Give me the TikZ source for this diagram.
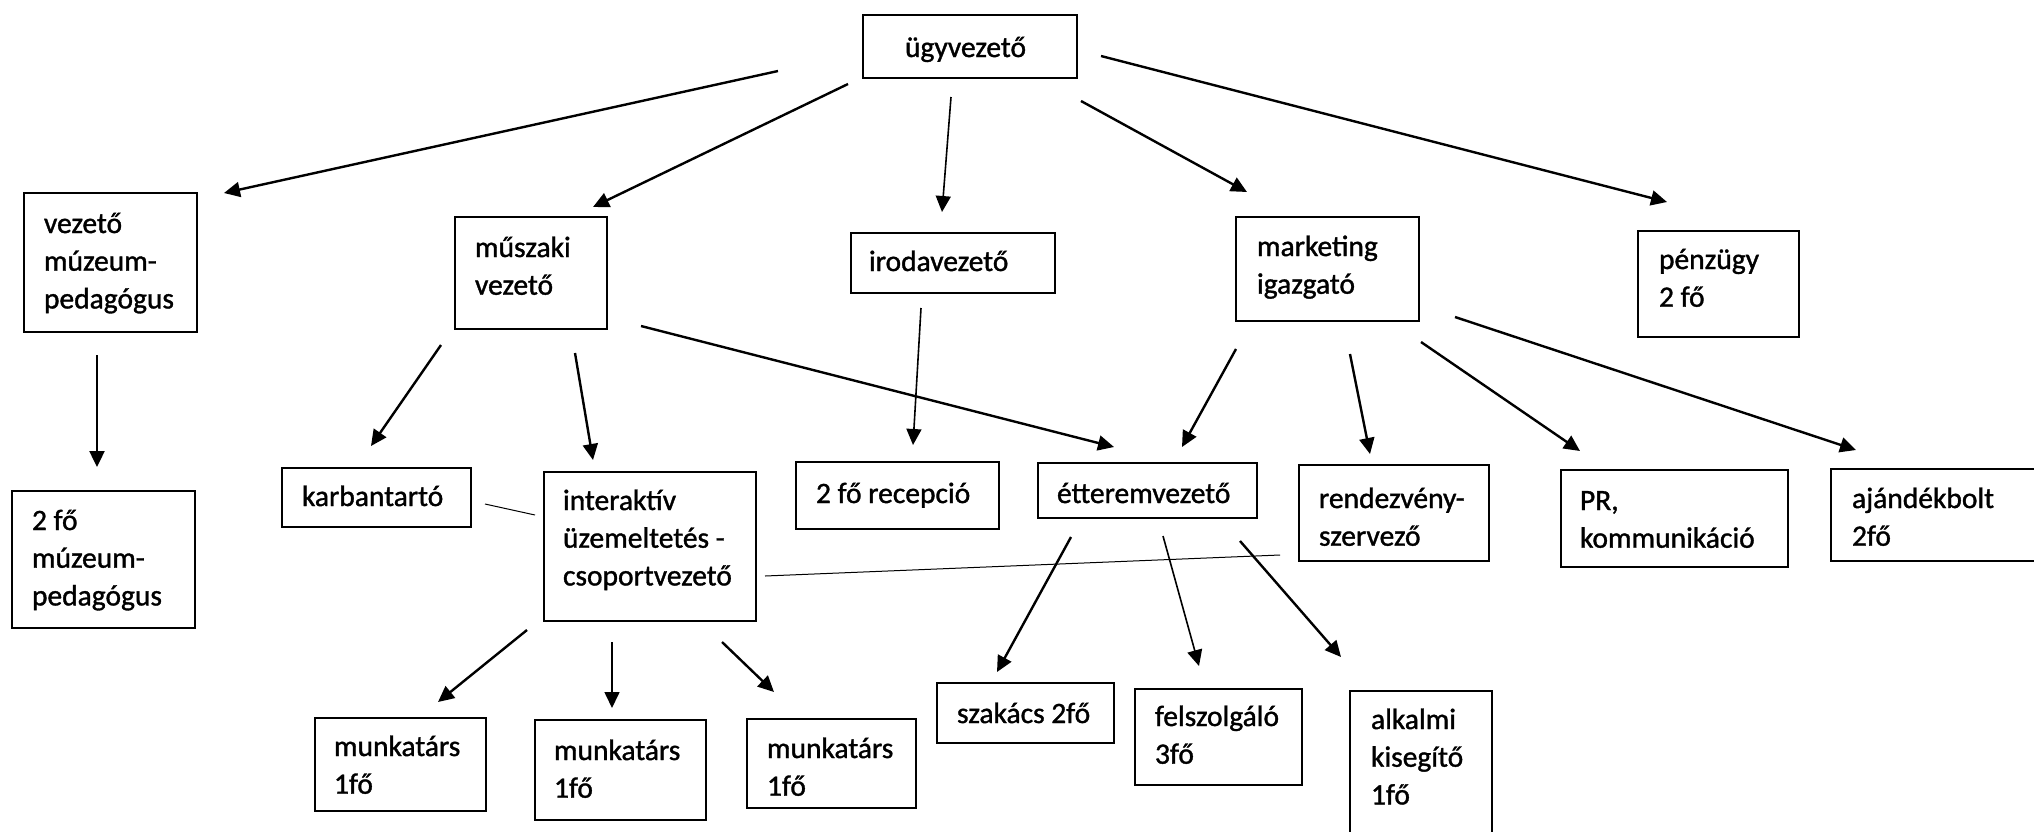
\documentclass[tikz,border=0pt]{standalone}
\usepackage{fontspec}
\setmainfont{Carlito}[FakeBold=1.2]
\usetikzlibrary{arrows.meta}
\tikzset{
  box/.style={draw, line width=1pt, inner sep=0pt, outer sep=0pt, anchor=north west},
  txt/.style={inner sep=0pt, outer sep=0pt, anchor=north west, align=left,
    font=\fontsize{14.75}{18.85}\selectfont},
  arr/.style={line width=1.2pt, -{Triangle[length=8pt,width=7.5pt]}},
  arrthin/.style={line width=0.8pt, -{Triangle[length=8pt,width=7.5pt]}},
  link/.style={line width=0.5pt}
}
\newcommand{\fl}{\rule{0pt}{14pt}}
\begin{document}
\begin{tikzpicture}[x=0.5pt,y=-0.5pt]
\useasboundingbox (0,0) rectangle (2034,831);
\clip (0,0) rectangle (2034,831);
\fill[white] (0,0) rectangle (2034,831);
% boxes
\node[box, minimum width=107pt, minimum height=31.5pt] (bugy) at (863,15) {};
\node[box, minimum width=86.5pt, minimum height=69.5pt] (bvmp) at (24,193) {};
\node[box, minimum width=76pt, minimum height=56pt] (bmusz) at (455,217) {};
\node[box, minimum width=102pt, minimum height=30pt] (biroda) at (851,233) {};
\node[box, minimum width=91.5pt, minimum height=52pt] (bmark) at (1236,217) {};
\node[box, minimum width=80.5pt, minimum height=53pt] (bpenz) at (1638,231) {};
\node[box, minimum width=91.5pt, minimum height=68.5pt] (bkmp) at (12,491) {};
\node[box, minimum width=94.5pt, minimum height=29.5pt] (bkarb) at (282,468) {};
\node[box, minimum width=106pt, minimum height=74.5pt] (binter) at (544,472) {};
\node[box, minimum width=101.5pt, minimum height=33.5pt] (brecep) at (796,462) {};
\node[box, minimum width=85.5pt, minimum height=46.5pt] (bmunk1) at (315,718) {};
\node[box, minimum width=85.5pt, minimum height=50pt] (bmunk2) at (535,720) {};
\node[box, minimum width=84.5pt, minimum height=44.5pt] (bmunk3) at (747,719) {};
\node[box, minimum width=88.5pt, minimum height=30pt] (bszak) at (937,683) {};
\node[box, minimum width=109.5pt, minimum height=27.5pt] (better) at (1038,463) {};
\node[box, minimum width=95pt, minimum height=48pt] (brend) at (1299,465) {};
\node[box, minimum width=113.5pt, minimum height=48.5pt] (bpr) at (1561,470) {};
\node[box, minimum width=110pt, minimum height=46pt] (bajand) at (1831,469) {};
\node[box, minimum width=83.5pt, minimum height=48pt] (bfelsz) at (1135,689) {};
\node[box, minimum width=71pt, minimum height=80pt] (balk) at (1350,691) {};
% texts
\node[txt] (tugy) at (905,29) {\fl ügyvezető};
\node[txt] (tvmp) at (44,205) {\fl vezető\\múzeum-\\pedagógus};
\node[txt] (tmusz) at (475,229) {\fl műszaki\\vezető};
\node[txt] (tiroda) at (869,243) {\fl irodavezető};
\node[txt] (tmark) at (1257,228) {\fl marketing\\igazgató};
\node[txt] (tpenz) at (1659,241) {\fl pénzügy\\2 fő};
\node[txt] (tkmp) at (32,502) {\fl 2 fő\\múzeum-\\pedagógus};
\node[txt] (tkarb) at (302,478) {\fl karbantartó};
\node[txt] (tinter) at (563,482) {\fl interaktív\\üzemeltetés -\\csoportvezető};
\node[txt] (trecep) at (816,475) {\fl 2 fő recepció};
\node[txt] (tmunk1) at (334,728) {\fl munkatárs\\1fő};
\node[txt] (tmunk2) at (554,732) {\fl munkatárs\\1fő};
\node[txt] (tmunk3) at (767,730) {\fl munkatárs\\1fő};
\node[txt] (tszak) at (957,695) {\fl szakács 2fő};
\node[txt] (tetter) at (1057,475) {\fl étteremvezető};
\node[txt] (trend) at (1319,480) {\fl rendezvény-\\szervező};
\node[txt] (tpr) at (1580,482) {\fl PR,\\kommunikáció};
\node[txt] (tajand) at (1852,480) {\fl ajándékbolt\\2fő};
\node[txt] (tfelsz) at (1155,698) {\fl felszolgáló\\3fő};
\node[txt] (talk) at (1371,701) {\fl alkalmi\\kisegítő\\1fő};
% arrow end points
\coordinate (a1s) at (778,71);    \coordinate (a1e) at (224,193);
\coordinate (a2s) at (848,84);    \coordinate (a2e) at (593,207);
\coordinate (a3s) at (951,97);    \coordinate (a3e) at (942,212);
\coordinate (a4s) at (1081,101);  \coordinate (a4e) at (1247,192);
\coordinate (a5s) at (1101,56);   \coordinate (a5e) at (1667,202);
\coordinate (a6s) at (97,355);    \coordinate (a6e) at (97,467);
\coordinate (a7s) at (441,345);   \coordinate (a7e) at (371,446);
\coordinate (a8s) at (575,353);   \coordinate (a8e) at (593,460);
\coordinate (a9s) at (641,326);   \coordinate (a9e) at (1114,447);
\coordinate (a10s) at (921,308);  \coordinate (a10e) at (913,445);
\coordinate (a11s) at (1236,349); \coordinate (a11e) at (1182,447);
\coordinate (a12s) at (1350,354); \coordinate (a12e) at (1370,454);
\coordinate (a13s) at (1421,342); \coordinate (a13e) at (1580,451);
\coordinate (a14s) at (1455,317); \coordinate (a14e) at (1856,450);
\coordinate (a15s) at (527,630);  \coordinate (a15e) at (438,702);
\coordinate (a16s) at (612,642);  \coordinate (a16e) at (612,708);
\coordinate (a17s) at (722,642);  \coordinate (a17e) at (774,692);
\coordinate (a18s) at (1071,537); \coordinate (a18e) at (997,672);
\coordinate (a19s) at (1163,536); \coordinate (a19e) at (1199,666);
\coordinate (a20s) at (1240,541); \coordinate (a20e) at (1341,657);
\coordinate (l1s) at (485,504);   \coordinate (l1e) at (535,515);
\coordinate (l2s) at (765,576);   \coordinate (l2e) at (1280,555);
% arrows
\draw[arr] (a1s) -- (a1e);
\draw[arr] (a2s) -- (a2e);
\draw[arrthin] (a3s) -- (a3e);
\draw[arr] (a4s) -- (a4e);
\draw[arr] (a5s) -- (a5e);
\draw[arr] (a6s) -- (a6e);
\draw[arr] (a7s) -- (a7e);
\draw[arr] (a8s) -- (a8e);
\draw[arr] (a9s) -- (a9e);
\draw[arrthin] (a10s) -- (a10e);
\draw[arr] (a11s) -- (a11e);
\draw[arr] (a12s) -- (a12e);
\draw[arr] (a13s) -- (a13e);
\draw[arr] (a14s) -- (a14e);
\draw[arr] (a15s) -- (a15e);
\draw[arrthin] (a16s) -- (a16e);
\draw[arr] (a17s) -- (a17e);
\draw[arr] (a18s) -- (a18e);
\draw[arrthin] (a19s) -- (a19e);
\draw[arr] (a20s) -- (a20e);
\draw[link] (l1s) -- (l1e);
\draw[link] (l2s) -- (l2e);
\end{tikzpicture}
\end{document}
